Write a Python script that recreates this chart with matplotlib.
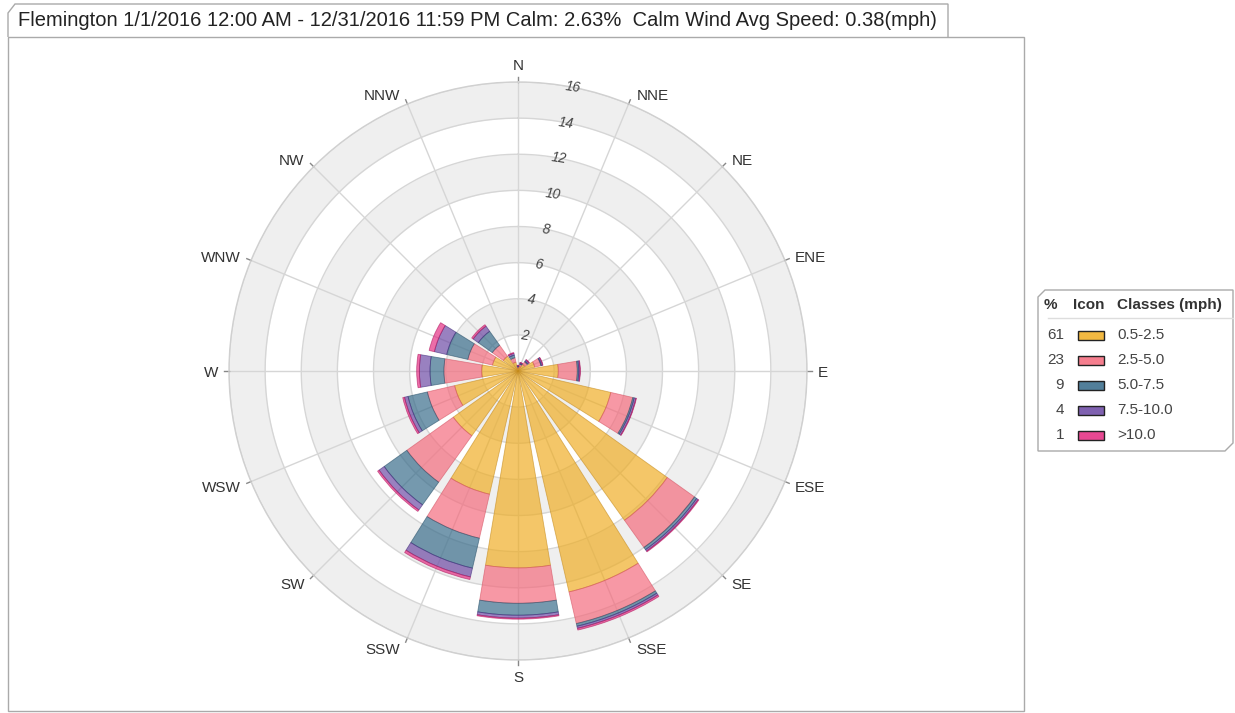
import numpy as np
import matplotlib
matplotlib.use("Agg")
import matplotlib.pyplot as plt
from matplotlib.patches import Polygon, Rectangle
from matplotlib.lines import Line2D

plt.rcParams['font.family'] = ['Liberation Sans', 'DejaVu Sans']

# data: frequency (%) per direction, one list per speed class
directions = ['N', 'NNE', 'NE', 'ENE', 'E', 'ESE', 'SE', 'SSE',
              'S', 'SSW', 'SW', 'WSW', 'W', 'WNW', 'NW', 'NNW']
class_labels = ['0.5-2.5', '2.5-5.0', '5.0-7.5', '7.5-10.0', '>10.0']
class_pct = [61, 23, 9, 4, 1]
c1 = [0.15, 0.25, 0.45, 0.95, 2.23, 5.27, 10.15, 12.55, 10.9, 7.0, 4.4, 3.6, 2.01, 1.45, 1.0, 0.5]
c2 = [0.07, 0.13, 0.17, 0.35, 1.05, 1.25, 1.85, 1.8, 1.96, 2.5, 3.16, 1.55, 2.09, 1.4, 0.75, 0.25]
c3 = [0.04, 0.04, 0.05, 0.03, 0.08, 0.08, 0.15, 0.15, 0.66, 1.7, 1.54, 1.1, 0.77, 1.2, 0.95, 0.15]
c4 = [0.04, 0.05, 0.08, 0.07, 0.07, 0.10, 0.10, 0.12, 0.16, 0.5, 0.35, 0.2, 0.59, 0.7, 0.35, 0.1]
c5 = [0.02, 0.02, 0.03, 0.02, 0.02, 0.03, 0.05, 0.10, 0.06, 0.15, 0.10, 0.10, 0.15, 0.30, 0.10, 0.05]
radial_ticks = [2, 4, 6, 8, 10, 12, 14, 16]
title = ('Flemington 1/1/2016 12:00 AM - 12/31/2016 11:59 PM Calm: 2.63%  '
         'Calm Wind Avg Speed: 0.38(mph)')

face = ['#efac20', '#f4687a', '#346988', '#6945a2', '#e3287f']
edge = ['#c48a1c', '#d45262', '#274f68', '#3e2a7a', '#b0155e']

W, H = 1235, 713
fig = plt.figure(figsize=(W / 100, H / 100), dpi=100)


def fx(x):
    return x / W


def fy(y):
    return 1 - y / H


# frame + title tab
fig.patches.append(Rectangle((fx(8), fy(711)), fx(1016), (711 - 37) / H,
                             transform=fig.transFigure, fill=False,
                             edgecolor='#aaaaaa', lw=1))
tab = [(8, 37), (8, 13), (15, 4), (948, 4), (948, 37)]
fig.patches.append(Polygon([(fx(a), fy(b)) for a, b in tab], closed=False,
                           transform=fig.transFigure, fill=False,
                           edgecolor='#aaaaaa', lw=1))
fig.text(fx(18), fy(20), title, fontsize=14.5, color='#222222', va='center', ha='left')

# polar axes: centre (518,371), radius 289 px
cx, cy, R = 518, 371, 289
ax = fig.add_axes([fx(cx - R), fy(cy + R), 2 * R / W, 2 * R / H], projection='polar')
ax.set_theta_zero_location('N')
ax.set_theta_direction(-1)
ax.set_ylim(0, 16)
ax.grid(False)
ax.set_xticks([])
ax.set_yticks([])
ax.spines['polar'].set_color('#d0d0d0')
ax.spines['polar'].set_linewidth(1)

tt = np.linspace(0, 2 * np.pi, 400)
for r0 in [2, 6, 10, 14]:
    ax.fill_between(tt, r0, r0 + 2, color='#efefef', lw=0, zorder=0)
for r0 in radial_ticks:
    ax.plot(tt, np.full_like(tt, r0), color='#d6d6d6', lw=1, zorder=1)

theta = np.deg2rad(np.arange(16) * 22.5)
for t in theta:
    ax.plot([t, t], [0, 16], color='#d6d6d6', lw=1, zorder=1)
    ax.plot([t, t], [16, 16.25], color='#888888', lw=1, zorder=1, clip_on=False)

# stacked bars
bottom = np.zeros(16)
for vals, fc, ec in zip([c1, c2, c3, c4, c5], face, edge):
    vals = np.array(vals)
    ax.bar(theta, vals, width=np.deg2rad(19), bottom=bottom,
           color=matplotlib.colors.to_rgba(fc, 0.68),
           edgecolor=matplotlib.colors.to_rgba(ec, 0.6), linewidth=0.6, zorder=3)
    bottom = bottom + vals

# radial labels
for v in radial_ticks:
    ax.text(np.deg2rad(11), v, str(v), fontsize=10, style='italic', color='#444444',
            ha='center', va='center', rotation=-8, zorder=5)

# direction labels (offsets in px from the tick end)
for t, lab in zip(theta, directions):
    s, c = np.sin(t), np.cos(t)
    if abs(s) < 0.1:
        ha, dx, dy = 'center', 0, (11 if c > 0 else -13)
    else:
        ha = 'left' if s > 0 else 'right'
        dx = 6 if s > 0 else -6
        dy = 6 * c - 2
    ax.annotate(lab, xy=(t, 16.25), xytext=(dx * 0.72, dy * 0.72),
                textcoords='offset points', fontsize=11, color='#333333',
                ha=ha, va='center', annotation_clip=False)

# legend box
lg = [(1038, 451), (1038, 297), (1045, 290), (1233, 290), (1233, 443), (1225, 451)]
fig.patches.append(Polygon([(fx(a), fy(b)) for a, b in lg], closed=True,
                           transform=fig.transFigure, facecolor='white',
                           edgecolor='#aaaaaa', lw=1))
fig.lines.append(Line2D([fx(1048), fx(1233)], [fy(318), fy(318)],
                        transform=fig.transFigure, color='#dddddd', lw=1))
fig.text(fx(1050), fy(305), '%', fontsize=11, weight='bold', color='#333333', ha='center', va='center')
fig.text(fx(1089), fy(305), 'Icon', fontsize=11, weight='bold', color='#333333', ha='center', va='center')
fig.text(fx(1117), fy(305), 'Classes (mph)', fontsize=11, weight='bold', color='#333333', ha='left', va='center')
for i, (p, lab, fc) in enumerate(zip(class_pct, class_labels, face)):
    y = 335 + i * 25
    fig.text(fx(1064), fy(y), str(p), fontsize=11, color='#444444', ha='right', va='center')
    fig.patches.append(Rectangle((fx(1078), fy(y + 4.5)), 26 / W, 9 / H,
                                 transform=fig.transFigure,
                                 facecolor=matplotlib.colors.to_rgba(fc, 0.85),
                                 edgecolor='#222222', lw=1))
    fig.text(fx(1117), fy(y), lab, fontsize=11, color='#444444', ha='left', va='center')

fig.savefig('out.png', dpi=100)
